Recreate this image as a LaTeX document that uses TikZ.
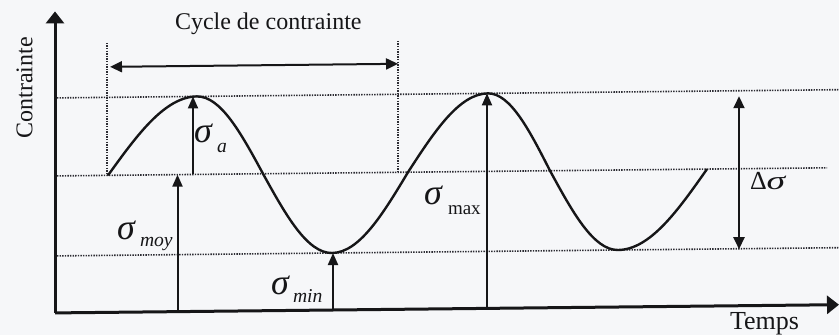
\documentclass[tikz,border=0pt]{standalone}
\usepackage{fontspec}
\setmainfont{Liberation Serif}
\usepackage{graphicx}
\usetikzlibrary{arrows.meta}
\definecolor{bg}{RGB}{246,247,249}
\definecolor{ink}{RGB}{22,22,24}
\definecolor{dotc}{RGB}{45,45,52}
\begin{document}
\begin{tikzpicture}[x=0.5pt,y=-0.5pt,
  axisline/.style={line width=1.5pt, draw=ink, -{Triangle[length=6pt,width=9pt]}},
  sigarrow/.style={line width=1pt, draw=ink, -{Triangle[length=6pt,width=5pt]}},
  dblarrow/.style={line width=1pt, draw=ink, {Triangle[length=6pt,width=5.5pt]}-{Triangle[length=6pt,width=5.5pt]}},
  guide/.style={draw=dotc, line width=0.8pt, dash pattern=on 0.7pt off 0.6pt},
  curve/.style={draw=ink, line width=1.2pt},
  lab/.style={inner sep=0pt, outer sep=0pt, anchor=base west, text=ink},
  sig/.style={lab, font=\fontsize{18}{18}\selectfont\itshape},
  subi/.style={lab, font=\fontsize{9.8}{10}\selectfont\itshape},
  subu/.style={lab, font=\fontsize{9.5}{10}\selectfont}
]
\fill[bg] (0,0) rectangle (839,335);
\useasboundingbox (0,0) rectangle (839,335);
\begin{scope}[yslant=0.0105]
  % levels: max 98.5, mean 176.5, min 256.5, axis 313.5
  \coordinate (O) at (55,313.5);
  \coordinate (Ytop) at (55,12);
  \coordinate (Xend) at (839,313.5);
  % guide lines
  \coordinate (maxL) at (57,98.5);  \coordinate (maxR) at (839,98.5);
  \coordinate (meanL) at (57,176.5); \coordinate (meanR) at (827,176.5);
  \coordinate (minL) at (57,256.5);  \coordinate (minR) at (839,256.5);
  \coordinate (v1t) at (107,44); \coordinate (v1b) at (107,176.5);
  \coordinate (v2t) at (398,45); \coordinate (v2b) at (398,176.5);
  \draw[guide] (maxL) -- (maxR);
  \draw[guide] (meanL) -- (meanR);
  \draw[guide] (minL) -- (minR);
  \draw[guide] (v1t) -- (v1b);
  \draw[guide] (v2t) -- (v2b);
  % axes
  \draw[axisline] (O) -- (Ytop);
  \draw[axisline] (O) -- (Xend);
  % curve
  \coordinate (c0) at (108,176.5);
  \coordinate (c1) at (197,98.5);
  \coordinate (c2) at (263,176.5);
  \coordinate (c3) at (332,256.5);
  \coordinate (c4) at (408,176.5);
  \coordinate (c5) at (488,98.5);
  \coordinate (c6) at (550,176.5);
  \coordinate (c7) at (618,256.5);
  \coordinate (c8) at (707,176.5);
  \draw[curve] (c0) sin (c1) cos (c2) sin (c3) cos (c4) sin (c5) cos (c6) sin (c7) cos (c8);
  % cycle arrow
  \coordinate (cycL) at (110,68);
  \coordinate (cycR) at (398,68);
  \draw[dblarrow] (cycL) -- (cycR);
  % sigma arrows
  \coordinate (saB) at (193,176.5); \coordinate (saT) at (193,98.5);
  \draw[sigarrow] (saB) -- (saT);
  \coordinate (smB) at (177.5,313.5); \coordinate (smT) at (177.5,176.5);
  \draw[sigarrow] (smB) -- (smT);
  \coordinate (snB) at (333,313.5); \coordinate (snT) at (333,256.5);
  \draw[sigarrow] (snB) -- (snT);
  \coordinate (sxB) at (487,313.5); \coordinate (sxT) at (487,98.5);
  \draw[sigarrow] (sxB) -- (sxT);
  \coordinate (dT) at (739,104); \coordinate (dB) at (739,257);
  \draw[dblarrow] (dT) -- (dB);
\end{scope}
% labels
\node[lab, font=\fontsize{12}{12}\selectfont] (cyc) at (175,30) {Cycle de contrainte};
\node[lab, anchor=base, rotate=90, font=\fontsize{12}{12}\selectfont] (ylab) at (32.5,88) {Contrainte};
\node[lab, font=\fontsize{13}{13}\selectfont] (temps) at (730,330) {Temps};
\node[sig] (sa) at (194,143) {σ};
\node[subi] (sa2) at (217,153) {a};
\node[sig] (sm) at (117,240) {σ};
\node[subi] (sm2) at (140,247) {moy};
\node[sig] (sn) at (271,295) {σ};
\node[subi] (sn2) at (293,303) {min};
\node[sig] (sx) at (424,205) {σ};
\node[subu] (sx2) at (448,215) {max};
\node[lab, font=\fontsize{13}{13}\selectfont] (ds) at (750,190) {Δ\scalebox{1.45}[1]{\itshape σ}};
\end{tikzpicture}
\end{document}
